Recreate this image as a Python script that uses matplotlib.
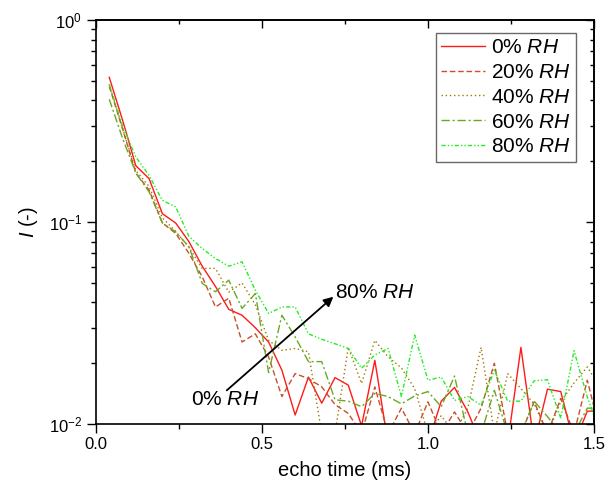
import matplotlib
matplotlib.use("Agg")
import matplotlib.pyplot as plt
import numpy as np
from matplotlib.ticker import LogLocator, MultipleLocator, NullFormatter

plt.rcParams["font.family"] = ["Liberation Sans", "DejaVu Sans"]
plt.rcParams["mathtext.fontset"] = "custom"
plt.rcParams["mathtext.rm"] = "Liberation Sans"
plt.rcParams["mathtext.it"] = "Liberation Sans:italic"
plt.rcParams["axes.unicode_minus"] = False

# echo times (ms), spacing 0.04 ms
echo_time = [0.04 * k for k in range(1, 39)]

rh_0 = [0.52, 0.32, 0.19, 0.164, 0.11, 0.099, 0.08, 0.0605, 0.048, 0.037,
        0.0346, 0.030, 0.0255, 0.0185, 0.0111, 0.0171, 0.0127, 0.017, 0.0156, 0.0098,
        0.0207, 0.008, 0.008, 0.008, 0.008, 0.013, 0.0152, 0.0115, 0.008, 0.008,
        0.008, 0.024, 0.008, 0.0149, 0.0145, 0.008, 0.0116, 0.0116]
rh_20 = [0.47, 0.29, 0.175, 0.144, 0.099, 0.088, 0.07, 0.0536, 0.038, 0.042,
         0.0255, 0.028, 0.0215, 0.0137, 0.0178, 0.0168, 0.0153, 0.0125, 0.0113, 0.009,
         0.0153, 0.009, 0.012, 0.009, 0.0129, 0.009, 0.0115, 0.009, 0.012, 0.02,
         0.009, 0.009, 0.0129, 0.009, 0.0134, 0.009, 0.0165, 0.009]
rh_40 = [0.48, 0.29, 0.18, 0.15, 0.105, 0.09, 0.075, 0.059, 0.059, 0.045,
         0.05, 0.039, 0.026, 0.0232, 0.0237, 0.0228, 0.009, 0.009, 0.024, 0.0159,
         0.026, 0.0215, 0.019, 0.015, 0.009, 0.011, 0.009, 0.012, 0.024, 0.009,
         0.0178, 0.015, 0.0126, 0.009, 0.0129, 0.016, 0.0192, 0.015]
rh_60 = [0.405, 0.26, 0.175, 0.141, 0.099, 0.0895, 0.0755, 0.0497, 0.0452, 0.0516,
         0.0374, 0.0443, 0.018, 0.0346, 0.027, 0.0204, 0.0204, 0.0132, 0.013, 0.0122,
         0.0142, 0.0137, 0.0126, 0.0138, 0.0145, 0.0122, 0.0173, 0.009, 0.009, 0.0147,
         0.009, 0.009, 0.013, 0.0109, 0.009, 0.009, 0.012, 0.012]
rh_80 = [0.48, 0.30, 0.21, 0.17, 0.128, 0.119, 0.085, 0.074, 0.066, 0.0605,
         0.0636, 0.046, 0.0353, 0.038, 0.038, 0.028, 0.0263, 0.025, 0.0237, 0.0189,
         0.022, 0.0237, 0.0137, 0.0276, 0.0165, 0.0171, 0.0131, 0.0137, 0.0124, 0.0185,
         0.013, 0.013, 0.0164, 0.0166, 0.0107, 0.0231, 0.0136, 0.009]

labels = ["0% $RH$", "20% $RH$", "40% $RH$", "60% $RH$", "80% $RH$"]
series = [rh_0, rh_20, rh_40, rh_60, rh_80]
colors = ["#ff1a1a", "#c8502a", "#a07800", "#68a824", "#22ee22"]
styles = ["-", (0, (4, 2)), (0, (1, 2)), (0, (6, 2, 1.5, 2)), (0, (3, 1.5, 1, 1.5, 1, 1.5))]

fig = plt.figure(figsize=(6.09, 4.87), dpi=100)
ax = fig.add_axes([0.1576, 0.129, 0.8177, 0.830])

for vals, lab, col, ls in zip(series, labels, colors, styles):
    ax.plot(echo_time, vals, color=col, linestyle=ls, linewidth=1.0, label=lab)

ax.set_yscale("log")
ax.set_xlim(0, 1.5)
ax.set_ylim(1e-2, 1)


def set_ticks(axis_x, axis_y):
    if axis_x is not None:
        axis_x.set_major_locator(MultipleLocator(0.5))
        axis_x.set_minor_locator(MultipleLocator(0.25))
    if axis_y is not None:
        axis_y.set_major_locator(LogLocator(base=10, numticks=10))
        axis_y.set_minor_locator(LogLocator(base=10, subs=np.arange(2, 10), numticks=10))
        axis_y.set_minor_formatter(NullFormatter())


set_ticks(ax.xaxis, ax.yaxis)
# bottom/left ticks point out, top/right ticks point in
ax.tick_params(which="both", direction="out", width=1.0, labelsize=12)
ax.tick_params(which="major", length=6.5)
ax.tick_params(which="minor", length=3.6)
ax.tick_params(axis="x", pad=3)

top = ax.secondary_xaxis("top")
set_ticks(top.xaxis, None)
top.tick_params(which="both", direction="in", labeltop=False, width=1.0)
top.tick_params(which="major", length=5.5)
top.tick_params(which="minor", length=3.2)

right = ax.secondary_yaxis("right")
set_ticks(None, right.yaxis)
right.tick_params(which="both", direction="in", labelright=False, width=1.0)
right.tick_params(which="major", length=5.5)
right.tick_params(which="minor", length=3.2)

for a in (ax, top, right):
    for sp in a.spines.values():
        sp.set_linewidth(1.2)

ax.set_xlabel("echo time (ms)", fontsize=14.5, labelpad=6)
ax.set_ylabel("$I$ (-)", fontsize=14.5, labelpad=6)

leg = ax.legend(loc="upper right", bbox_to_anchor=(0.964, 0.968), fontsize=15,
                frameon=True, fancybox=False, edgecolor="#444444",
                handlelength=2.1, handletextpad=0.3, borderpad=0.25, labelspacing=0.28,
                borderaxespad=0.0)
leg.get_frame().set_linewidth(1.0)

ax.annotate("", xy=(0.715, 0.0427), xytext=(0.394, 0.0147),
            arrowprops=dict(arrowstyle="-|>", color="black", lw=1.3, mutation_scale=14,
                            shrinkA=0, shrinkB=0))
ax.text(0.389, 0.0133, "0% $RH$", fontsize=15, ha="center", va="center")
ax.text(0.72, 0.045, "80% $RH$", fontsize=15, ha="left", va="center")

fig.savefig("out.png", dpi=100)
